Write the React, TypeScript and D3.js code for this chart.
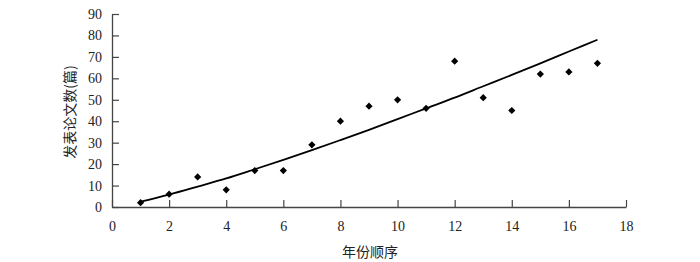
import { useEffect, useRef } from "react";
import * as d3 from "d3";

// year order (x) and papers published (y)
const years = [1, 2, 3, 4, 5, 6, 7, 8, 9, 10, 11, 12, 13, 14, 15, 16, 17];
const papers = [2, 6, 14, 8, 17, 17, 29, 40, 47, 50, 46, 68, 51, 45, 62, 63, 67];
// trend curve at each year
const trend = [2.5, 5.8, 9.5, 13.3, 17.6, 22, 26.5, 31.2, 36, 41, 46, 51, 56.3, 61.6, 67, 72.5, 78];

const xTicks = [0, 2, 4, 6, 8, 10, 12, 14, 16, 18];
const yTicks = [0, 10, 20, 30, 40, 50, 60, 70, 80, 90];

const xTitle = "年份顺序";
const yTitle = "发表论文数(篇)";

const App = () => {
  const svgRef = useRef<SVGSVGElement | null>(null);

  useEffect(() => {
    const svg = d3.select(svgRef.current);
    svg.selectAll("*").remove();

    const margin = { top: 14, left: 112, right: 74, bottom: 55 };
    const width = 700;
    const height = 262;
    const innerWidth = width - margin.left - margin.right;
    const innerHeight = height - margin.top - margin.bottom;

    const numFont = "'Liberation Serif', 'DejaVu Serif', serif";
    const cjkFont = "'Noto Sans CJK SC', sans-serif";

    const g = svg
      .append("g")
      .attr("transform", `translate(${margin.left},${margin.top})`);

    const x = d3.scaleLinear().domain([0, 18]).range([0, innerWidth]);
    const y = d3.scaleLinear().domain([0, 90]).range([innerHeight, 0]);

    const xAxis = d3
      .axisBottom(x)
      .tickValues(xTicks)
      .tickSizeInner(-7)
      .tickSizeOuter(0)
      .tickPadding(14);
    const yAxis = d3
      .axisLeft(y)
      .tickValues(yTicks)
      .tickSizeInner(-7)
      .tickSizeOuter(0)
      .tickPadding(10);

    const gx = g
      .append("g")
      .attr("transform", `translate(0,${innerHeight})`)
      .call(xAxis);
    const gy = g.append("g").call(yAxis);

    [gx, gy].forEach((ax) => {
      ax.select(".domain").attr("stroke", "#444").attr("stroke-width", 1.3);
      ax.selectAll(".tick line").attr("stroke", "#444").attr("stroke-width", 1.2);
      ax.selectAll(".tick text")
        .attr("fill", "#222")
        .style("font-family", numFont)
        .style("font-size", "14px");
    });

    const line = d3
      .line<number>()
      .x((_, i) => x(years[i]))
      .y((d) => y(d))
      .curve(d3.curveMonotoneX);

    g.append("path")
      .datum(trend)
      .attr("fill", "none")
      .attr("stroke", "#000")
      .attr("stroke-width", 1.8)
      .attr("d", line);

    const diamond = d3.symbol().type(d3.symbolSquare).size(26);
    g.selectAll(".pt")
      .data(papers)
      .join("path")
      .attr("class", "pt")
      .attr("d", diamond)
      .attr(
        "transform",
        (d, i) => `translate(${x(years[i])},${y(d)}) rotate(45)`
      )
      .attr("fill", "#000");

    svg
      .append("text")
      .attr("x", 370)
      .attr("y", 257)
      .attr("text-anchor", "middle")
      .style("font-family", cjkFont)
      .style("font-size", "14px")
      .attr("fill", "#222")
      .text(xTitle);

    svg
      .append("text")
      .attr("transform", "translate(75,112) rotate(-90)")
      .attr("text-anchor", "middle")
      .style("font-family", cjkFont)
      .style("font-size", "14px")
      .attr("fill", "#222")
      .text(yTitle);
  }, []);

  return (
    <svg
      ref={svgRef}
      width={700}
      height={262}
      style={{ position: "absolute", left: 0, top: 0, background: "#fff" }}
    />
  );
};

export default App;
